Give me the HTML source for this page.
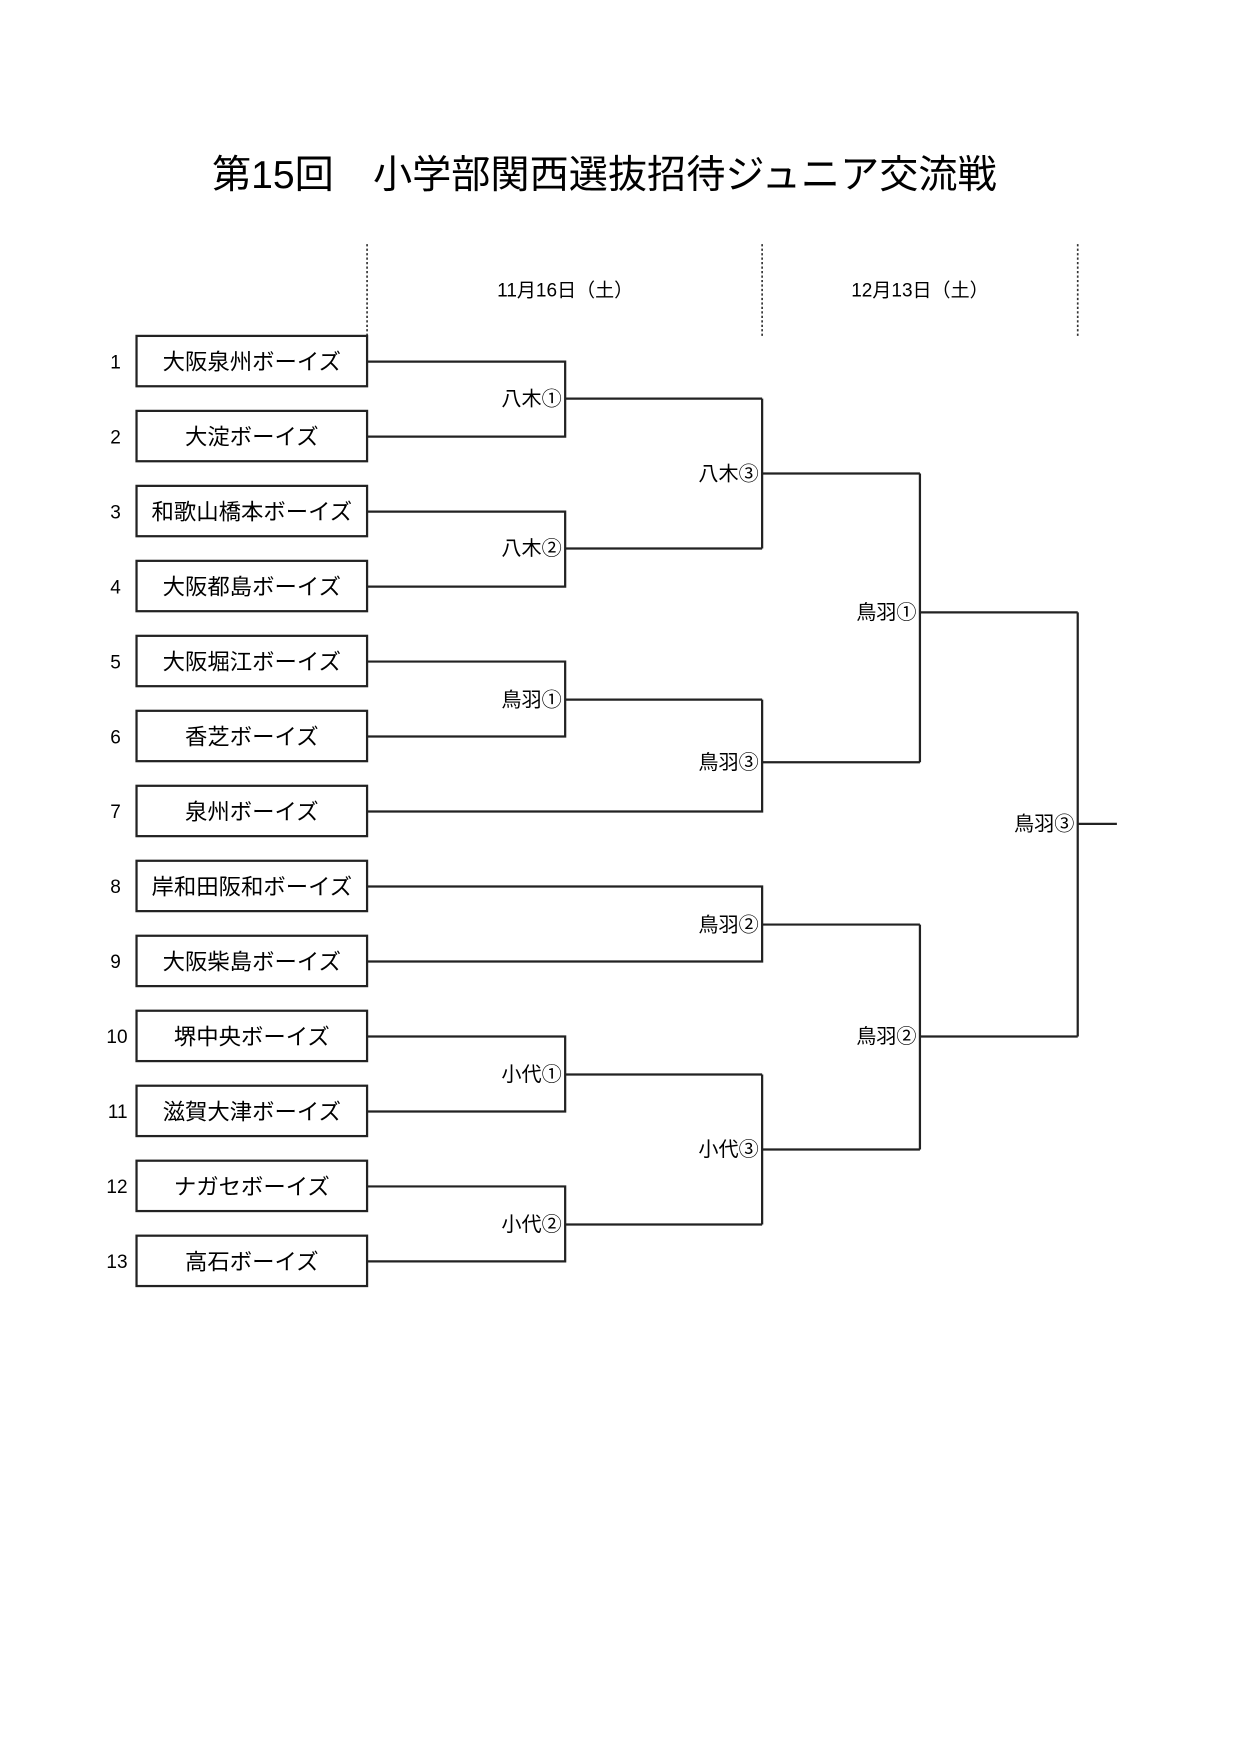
<!DOCTYPE html>
<html><head><meta charset="utf-8"><style>
html,body{margin:0;padding:0;background:#fff;}
svg{display:block;}
text{font-family:"Liberation Sans","Noto Sans CJK JP",sans-serif;fill:#000;}
</style></head><body>
<svg width="1240" height="1754" viewBox="0 0 1108 1567" xmlns="http://www.w3.org/2000/svg">
<text x="540" y="168" font-size="35" text-anchor="middle">第15回　小学部関西選抜招待ジュニア交流戦</text>
<g stroke="#333" stroke-width="1.5" stroke-dasharray="2,2">
<line x1="328" y1="218" x2="328" y2="300"/>
<line x1="681" y1="218" x2="681" y2="300"/>
<line x1="963" y1="218" x2="963" y2="300"/>
</g>
<text x="505" y="265" font-size="17" text-anchor="middle">11月16日（土）</text>
<text x="822" y="265" font-size="17" text-anchor="middle">12月13日（土）</text>
<g fill="none" stroke="#222" stroke-width="2">
<rect x="122" y="300" width="206" height="45"/>
<rect x="122" y="367" width="206" height="45"/>
<rect x="122" y="434" width="206" height="45"/>
<rect x="122" y="501" width="206" height="45"/>
<rect x="122" y="568" width="206" height="45"/>
<rect x="122" y="635" width="206" height="45"/>
<rect x="122" y="702" width="206" height="45"/>
<rect x="122" y="769" width="206" height="45"/>
<rect x="122" y="836" width="206" height="45"/>
<rect x="122" y="903" width="206" height="45"/>
<rect x="122" y="970" width="206" height="45"/>
<rect x="122" y="1037" width="206" height="45"/>
<rect x="122" y="1104" width="206" height="45"/>
<polyline points="328,323 505,323 505,390 328,390"/>
<line x1="505" y1="356" x2="681" y2="356"/>
<polyline points="328,457 505,457 505,524 328,524"/>
<line x1="505" y1="490" x2="681" y2="490"/>
<polyline points="328,591 505,591 505,658 328,658"/>
<line x1="505" y1="625" x2="681" y2="625"/>
<polyline points="328,725 681,725 681,625"/>
<line x1="681" y1="356" x2="681" y2="490"/>
<line x1="681" y1="423" x2="822" y2="423"/>
<line x1="681" y1="681" x2="822" y2="681"/>
<line x1="822" y1="423" x2="822" y2="681"/>
<line x1="822" y1="547" x2="963" y2="547"/>
<polyline points="328,792 681,792 681,859 328,859"/>
<line x1="681" y1="826" x2="822" y2="826"/>
<polyline points="328,926 505,926 505,993 328,993"/>
<line x1="505" y1="960" x2="681" y2="960"/>
<polyline points="328,1060 505,1060 505,1127 328,1127"/>
<line x1="505" y1="1094" x2="681" y2="1094"/>
<line x1="681" y1="960" x2="681" y2="1094"/>
<line x1="681" y1="1027" x2="822" y2="1027"/>
<line x1="822" y1="826" x2="822" y2="1027"/>
<line x1="822" y1="926" x2="963" y2="926"/>
<line x1="963" y1="547" x2="963" y2="926"/>
<line x1="963" y1="736" x2="998" y2="736"/>
</g>
<g font-size="20" text-anchor="middle">
<text x="225" y="330">大阪泉州ボーイズ</text>
<text x="225" y="397">大淀ボーイズ</text>
<text x="225" y="464">和歌山橋本ボーイズ</text>
<text x="225" y="531">大阪都島ボーイズ</text>
<text x="225" y="598">大阪堀江ボーイズ</text>
<text x="225" y="665">香芝ボーイズ</text>
<text x="225" y="732">泉州ボーイズ</text>
<text x="225" y="799">岸和田阪和ボーイズ</text>
<text x="225" y="866">大阪柴島ボーイズ</text>
<text x="225" y="933">堺中央ボーイズ</text>
<text x="225" y="1000">滋賀大津ボーイズ</text>
<text x="225" y="1067">ナガセボーイズ</text>
<text x="225" y="1134">高石ボーイズ</text>
</g>
<g font-size="17" text-anchor="end">
<text x="108" y="329">1</text><text x="108" y="396">2</text><text x="108" y="463">3</text>
<text x="108" y="530">4</text><text x="108" y="597">5</text><text x="108" y="664">6</text>
<text x="108" y="731">7</text><text x="108" y="798">8</text><text x="108" y="865">9</text>
<text x="114" y="932">10</text><text x="114" y="999">11</text><text x="114" y="1066">12</text>
<text x="114" y="1133">13</text>
</g>
<g font-size="18" text-anchor="end">
<text x="502" y="362">八木①</text>
<text x="502" y="496">八木②</text>
<text x="502" y="631">鳥羽①</text>
<text x="502" y="966">小代①</text>
<text x="502" y="1100">小代②</text>
<text x="678" y="429">八木③</text>
<text x="678" y="687">鳥羽③</text>
<text x="678" y="832">鳥羽②</text>
<text x="678" y="1033">小代③</text>
<text x="819" y="553">鳥羽①</text>
<text x="819" y="932">鳥羽②</text>
<text x="960" y="742">鳥羽③</text>
</g>
</svg>
</body></html>
